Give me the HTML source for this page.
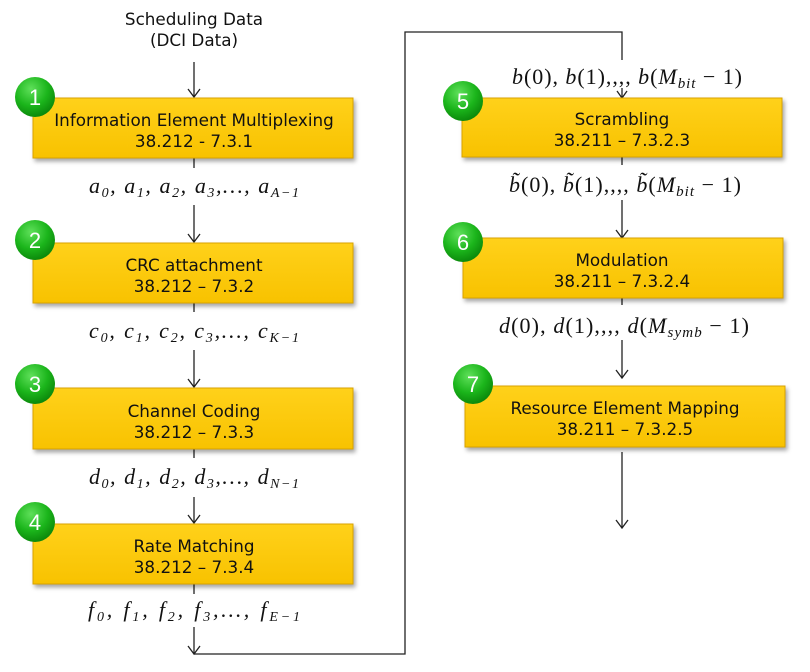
<!DOCTYPE html>
<html><head><meta charset="utf-8"><style>
body{margin:0;background:#fff}
svg text{font-family:"DejaVu Sans","Liberation Sans",sans-serif}
.b{font-size:16.8px;fill:#111}
.m{font-family:"Liberation Serif",serif;font-style:italic;font-size:22px;fill:#111}
.n{font-size:22px;fill:#fff;font-family:"Liberation Sans",sans-serif}
</style></head><body>
<svg width="810" height="667" viewBox="0 0 810 667" xmlns="http://www.w3.org/2000/svg">
<defs>
<linearGradient id="g" x1="0" y1="0" x2="0" y2="1"><stop offset="0" stop-color="#ffd11a"/><stop offset="1" stop-color="#f8c200"/></linearGradient>
<radialGradient id="c" cx="0.4" cy="0.3" r="0.7"><stop offset="0" stop-color="#5fe05a"/><stop offset="0.6" stop-color="#1bb51b"/><stop offset="1" stop-color="#0c8a0c"/></radialGradient>
</defs>
<g stroke="#222" stroke-width="1.3" fill="none">
<line x1="194" y1="62" x2="194" y2="97"/><polyline points="188,89 194,97 200,89"/>
<line x1="194" y1="158" x2="194" y2="168"/><line x1="194" y1="205" x2="194" y2="242"/><polyline points="188,234 194,242 200,234"/>
<line x1="194" y1="303" x2="194" y2="312"/><line x1="194" y1="350" x2="194" y2="387"/><polyline points="188,379 194,387 200,379"/>
<line x1="194" y1="449" x2="194" y2="458"/><line x1="194" y1="497" x2="194" y2="523"/><polyline points="188,515 194,523 200,515"/>
<line x1="194" y1="584" x2="194" y2="594"/><line x1="194" y1="627" x2="194" y2="654"/><polyline points="188,646 194,654 200,646"/>
<polyline points="194,654 405,654 405,32 622,32 622,60"/>
<line x1="622" y1="88" x2="622" y2="98"/><polyline points="617,91 622,98 627,91"/>
<line x1="622" y1="157" x2="622" y2="165"/><line x1="622" y1="200" x2="622" y2="238"/><polyline points="616,230 622,238 628,230"/>
<line x1="622" y1="298" x2="622" y2="305"/><line x1="622" y1="340" x2="622" y2="378"/><polyline points="616,370 622,378 628,370"/>
<line x1="622" y1="452" x2="622" y2="528"/><polyline points="616,520 622,528 628,520"/>
</g>
<g fill="url(#g)" stroke="#d9a300" stroke-width="1">
<rect x="33" y="98" width="320" height="60" style="filter:drop-shadow(2px 3px 2px rgba(0,0,0,.35))"/>
<rect x="33" y="243" width="320" height="60" style="filter:drop-shadow(2px 3px 2px rgba(0,0,0,.35))"/>
<rect x="33" y="388" width="320" height="61" style="filter:drop-shadow(2px 3px 2px rgba(0,0,0,.35))"/>
<rect x="33" y="524" width="320" height="60" style="filter:drop-shadow(2px 3px 2px rgba(0,0,0,.35))"/>
<rect x="462" y="98" width="320" height="59" style="filter:drop-shadow(2px 3px 2px rgba(0,0,0,.35))"/>
<rect x="463" y="238" width="320" height="60" style="filter:drop-shadow(2px 3px 2px rgba(0,0,0,.35))"/>
<rect x="465" y="386" width="320" height="61" style="filter:drop-shadow(2px 3px 2px rgba(0,0,0,.35))"/>
</g>
<g text-anchor="middle" class="b">
<text x="194" y="25" class="b">Scheduling Data</text><text x="194" y="46" class="b">(DCI Data)</text>
<text x="194" y="126" class="b">Information Element Multiplexing</text><text x="194" y="147" class="b">38.212 - 7.3.1</text>
<text x="194" y="271" class="b">CRC attachment</text><text x="194" y="292" class="b">38.212 – 7.3.2</text>
<text x="194" y="417" class="b">Channel Coding</text><text x="194" y="438" class="b">38.212 – 7.3.3</text>
<text x="194" y="552" class="b">Rate Matching</text><text x="194" y="573" class="b">38.212 – 7.3.4</text>
<text x="622" y="125" class="b">Scrambling</text><text x="622" y="146" class="b">38.211 – 7.3.2.3</text>
<text x="622" y="266" class="b">Modulation</text><text x="622" y="287" class="b">38.211 – 7.3.2.4</text>
<text x="625" y="414" class="b">Resource Element Mapping</text><text x="625" y="435" class="b">38.211 – 7.3.2.5</text>
<text x="194" y="193" class="m" textLength="210" lengthAdjust="spacing">a<tspan font-size="14" dy="4">0</tspan><tspan dy="-4">, a</tspan><tspan font-size="14" dy="4">1</tspan><tspan dy="-4">, a</tspan><tspan font-size="14" dy="4">2</tspan><tspan dy="-4">, a</tspan><tspan font-size="14" dy="4">3</tspan><tspan dy="-4">,…, a</tspan><tspan font-size="14" dy="4">A−1</tspan></text>
<text x="194" y="338" class="m" textLength="210" lengthAdjust="spacing">c<tspan font-size="14" dy="4">0</tspan><tspan dy="-4">, c</tspan><tspan font-size="14" dy="4">1</tspan><tspan dy="-4">, c</tspan><tspan font-size="14" dy="4">2</tspan><tspan dy="-4">, c</tspan><tspan font-size="14" dy="4">3</tspan><tspan dy="-4">,…, c</tspan><tspan font-size="14" dy="4">K−1</tspan></text>
<text x="194" y="484" class="m" textLength="210" lengthAdjust="spacing">d<tspan font-size="14" dy="4">0</tspan><tspan dy="-4">, d</tspan><tspan font-size="14" dy="4">1</tspan><tspan dy="-4">, d</tspan><tspan font-size="14" dy="4">2</tspan><tspan dy="-4">, d</tspan><tspan font-size="14" dy="4">3</tspan><tspan dy="-4">,…, d</tspan><tspan font-size="14" dy="4">N−1</tspan></text>
<text x="194" y="617" class="m" textLength="212" lengthAdjust="spacing">f<tspan font-size="14" dy="4">0</tspan><tspan dy="-4">, f</tspan><tspan font-size="14" dy="4">1</tspan><tspan dy="-4">, f</tspan><tspan font-size="14" dy="4">2</tspan><tspan dy="-4">, f</tspan><tspan font-size="14" dy="4">3</tspan><tspan dy="-4">,…, f</tspan><tspan font-size="14" dy="4">E−1</tspan></text>
<text x="627" y="84" class="m" textLength="230" lengthAdjust="spacing">b<tspan font-style="normal">(0),</tspan> b<tspan font-style="normal">(1),,,,</tspan> b<tspan font-style="normal">(</tspan>M<tspan font-size="15" dy="4">bit</tspan><tspan dy="-4" font-style="normal"> − 1)</tspan></text>
<text x="625" y="192" class="m" textLength="232" lengthAdjust="spacing">b̃<tspan font-style="normal">(0),</tspan> b̃<tspan font-style="normal">(1),,,,</tspan> b̃<tspan font-style="normal">(</tspan>M<tspan font-size="15" dy="4">bit</tspan><tspan dy="-4" font-style="normal"> − 1)</tspan></text>
<text x="624" y="333" class="m" textLength="250" lengthAdjust="spacing">d<tspan font-style="normal">(0),</tspan> d<tspan font-style="normal">(1),,,,</tspan> d<tspan font-style="normal">(</tspan>M<tspan font-size="15" dy="4">symb</tspan><tspan dy="-4" font-style="normal"> − 1)</tspan></text>
</g>
<g>
<circle cx="35" cy="97" r="20" fill="url(#c)"/><text x="35" y="105" text-anchor="middle" class="n">1</text>
<circle cx="35" cy="240" r="20" fill="url(#c)"/><text x="35" y="248" text-anchor="middle" class="n">2</text>
<circle cx="35" cy="384" r="20" fill="url(#c)"/><text x="35" y="392" text-anchor="middle" class="n">3</text>
<circle cx="35" cy="522" r="20" fill="url(#c)"/><text x="35" y="530" text-anchor="middle" class="n">4</text>
<circle cx="463" cy="101" r="20" fill="url(#c)"/><text x="463" y="109" text-anchor="middle" class="n">5</text>
<circle cx="463" cy="242" r="20" fill="url(#c)"/><text x="463" y="250" text-anchor="middle" class="n">6</text>
<circle cx="473" cy="384" r="20" fill="url(#c)"/><text x="473" y="392" text-anchor="middle" class="n">7</text>
</g>
</svg>
</body></html>
